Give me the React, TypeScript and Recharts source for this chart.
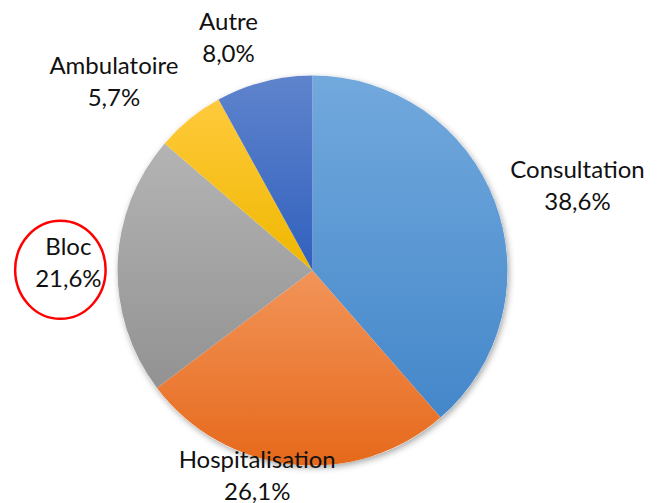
import React from 'react';
import { PieChart, Pie, Cell } from 'recharts';

const categories = ['Consultation', 'Hospitalisation', 'Bloc', 'Ambulatoire', 'Autre'];
const shares = [38.6, 26.1, 21.6, 5.7, 8.0];
const highlighted = ['Bloc'];
const topColors = ['#72a9dd', '#f29459', '#b4b4b4', '#ffca3c', '#5f84cd'];
const bottomColors = ['#4487ca', '#e6691b', '#929292', '#efb700', '#3160bd'];

const W = 658;
const H = 503;
const FONT = 'Lato, "Open Sans", sans-serif';
const FONT_SIZE = 24;

const data = categories.map((name, i) => ({ name, value: shares[i] }));
const total = [{ name: 'total', value: shares.reduce((a, b) => a + b, 0) }];

let ctx: CanvasRenderingContext2D | null = null;
const measure = (s: string) => {
  if (!ctx) ctx = document.createElement('canvas').getContext('2d');
  if (!ctx) return s.length * FONT_SIZE * 0.5;
  ctx.font = `${FONT_SIZE}px Lato`;
  return ctx.measureText(s).width;
};
const clamp = (v: number, lo: number, hi: number) => Math.max(lo, Math.min(hi, v));
const fmt = (v: number) => v.toFixed(1).replace('.', ',') + '%';

const renderLabel = (props: any) => {
  const { cx, cy, midAngle, outerRadius, index } = props;
  const name = categories[index];
  const line1 = name;
  const line2 = fmt(shares[index]);
  const w = Math.max(measure(line1), measure(line2));
  const hw = w / 2 + 3;
  const hh = 32;
  const rad = (midAngle * Math.PI) / 180;
  const cos = Math.cos(rad);
  const sin = Math.sin(rad);
  const r = outerRadius + 13;
  const px = cx + r * cos;
  const py = cy - r * sin;
  const sx = clamp(4 * cos, -1, 1);
  const sy = clamp(1.1 * sin, -1, 1);
  const bx = clamp(px + sx * hw, hw, W - hw);
  const by = clamp(py - sy * hh, hh, H - 28);
  return (
    <g key={`lbl-${index}`}>
      <text textAnchor="middle" fontFamily={FONT} fontSize={FONT_SIZE} fill="#111">
        <tspan x={bx} y={by - 7.4}>{line1}</tspan>
        <tspan x={bx} y={by + 24.6}>{line2}</tspan>
      </text>
      {highlighted.includes(name) && (
        <ellipse cx={bx - 8} cy={by + 7} rx={hw + 9} ry={hh + 17} fill="none" stroke="#ff0000" strokeWidth={2.5} />
      )}
    </g>
  );
};

export default function App() {
  return (
    <div style={{ position: 'absolute', left: 0, top: 0, width: W, height: H, background: '#fff' }}>
      <svg width={0} height={0} style={{ position: 'absolute' }}>
        <defs>
          {categories.map((c, i) => (
            <linearGradient key={c} id={`grad-${i}`} x1="0" y1="0" x2="0" y2="1">
              <stop offset="0%" stopColor={topColors[i]} />
              <stop offset="100%" stopColor={bottomColors[i]} />
            </linearGradient>
          ))}
          <filter id="pieShadow" x="-20%" y="-20%" width="140%" height="140%">
            <feDropShadow dx="1.5" dy="2.5" stdDeviation="3" floodColor="#000" floodOpacity="0.35" />
          </filter>
        </defs>
      </svg>
      <PieChart width={W} height={H} margin={{ top: 0, right: 0, bottom: 0, left: 0 }}>
        <Pie
          data={total}
          dataKey="value"
          cx={312.5}
          cy={270.5}
          outerRadius={195}
          startAngle={90}
          endAngle={-270}
          stroke="none"
          isAnimationActive={false}
        >
          <Cell fill="#ffffff" filter="url(#pieShadow)" />
        </Pie>
        <Pie
          data={data}
          dataKey="value"
          nameKey="name"
          cx={312.5}
          cy={270.5}
          outerRadius={195}
          startAngle={90}
          endAngle={-270}
          stroke="none"
          label={renderLabel}
          labelLine={false}
          isAnimationActive={false}
        >
          {data.map((d, i) => (
            <Cell key={d.name} fill={`url(#grad-${i})`} />
          ))}
        </Pie>
      </PieChart>
    </div>
  );
}
